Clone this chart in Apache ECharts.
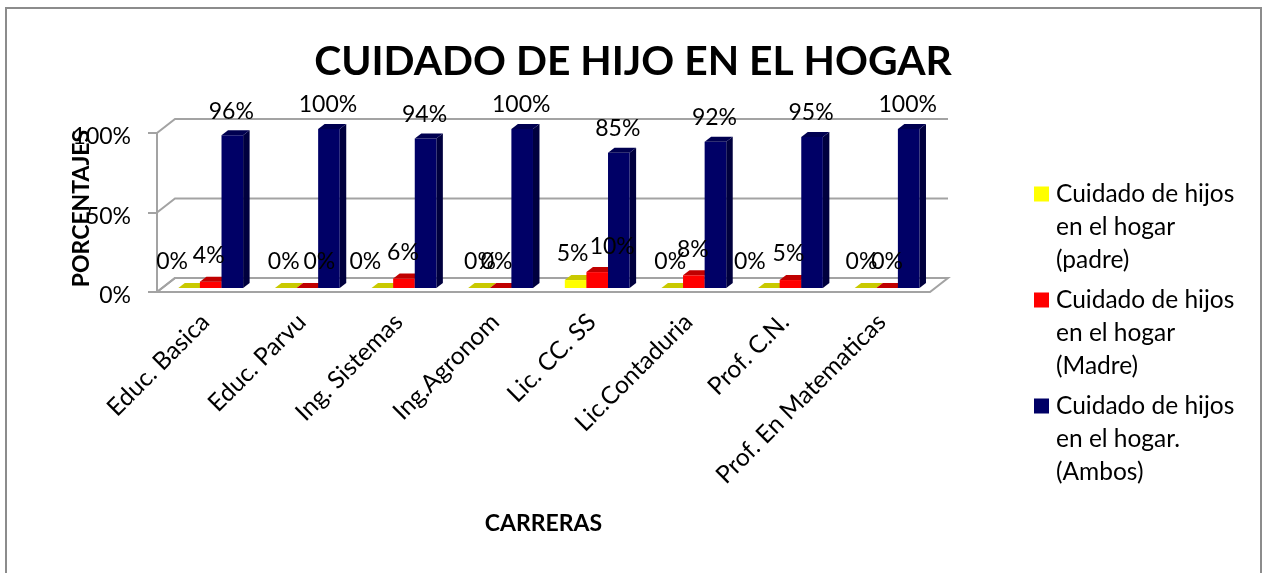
<!DOCTYPE html>
<html>
<head>
<meta charset="utf-8">
<style>html,body{margin:0;padding:0;background:#fff}#chart{width:1262px;height:573px}</style>
<script src="https://cdn.jsdelivr.net/npm/echarts@6/dist/echarts.min.js"></script>
</head>
<body>
<div id="chart"></div>
<script>
const categories = ['Educ. Basica', 'Educ. Parvu', 'Ing. Sistemas', 'Ing.Agronom', 'Lic. CC. SS', 'Lic.Contaduria', 'Prof. C.N.', 'Prof. En Matematicas']
const padre = [0, 0, 0, 0, 5, 0, 0, 0]
const madre = [4, 0, 6, 0, 10, 8, 5, 0]
const ambos = [96, 100, 94, 100, 85, 92, 95, 100]
const yTicks = [0, 50, 100]

const FONT = 'Lato'
const GRAY = '#a3a3a3'
// 3d look of the old excel chart: wall depth and bar depth in px
const WALL_X = 18
const WALL_Y = 14
const BAR_SHIFT_X = 5.4
const BAR_SHIFT_Y = 4
const BAR_W = 21.6
const DEPTH_X = 6.5
const DEPTH_Y = 5
// the labels were moved by hand in the original
const labelDx = [
  [-17, -2, -17, 1, -3, -2, -19, -4],
  [-2, 12, -1, -4, 15, -1, -2, 0],
  [-1, -1, -1, -1, -1, -1, -1, -1]
]
const labelDy = [-21, -21, -19]

const seriesDefs = [
  {name: 'Cuidado de hijos\nen el hogar\n(padre)', values: padre, front: '#ffff00', top: '#c9c900', side: '#a8a800'},
  {name: 'Cuidado de hijos\nen el hogar\n(Madre)', values: madre, front: '#ff0000', top: '#c00000', side: '#a00000'},
  {name: 'Cuidado de hijos\nen el hogar.\n(Ambos)', values: ambos, front: '#000066', top: '#000050', side: '#00003e'}
]

function barFront (api, seriesPos) {
  const i = api.value(0)
  const base = api.coord([i, 0])
  const head = api.coord([i, api.value(1)])
  const x = base[0] + BAR_SHIFT_X + (seriesPos - 1.5) * BAR_W
  return {x: x, base: base[1] - BAR_SHIFT_Y, head: head[1] - BAR_SHIFT_Y}
}

function renderBar (seriesPos, def) {
  return function (params, api) {
    const b = barFront(api, seriesPos)
    const r = b.x + BAR_W
    const children = []
    if (b.base - b.head > 0.5) {
      children.push({type: 'polygon', shape: {points: [[r, b.base], [r + DEPTH_X, b.base - DEPTH_Y], [r + DEPTH_X, b.head - DEPTH_Y], [r, b.head]]}, style: {fill: def.side}})
      children.push({type: 'rect', shape: {x: b.x, y: b.head, width: BAR_W, height: b.base - b.head}, style: {fill: def.front}})
    }
    children.push({type: 'polygon', shape: {points: [[b.x, b.head], [r, b.head], [r + DEPTH_X, b.head - DEPTH_Y], [b.x + DEPTH_X, b.head - DEPTH_Y]]}, style: {fill: def.top}})
    return {type: 'group', children: children}
  }
}

function renderWalls (params, api) {
  const cs = params.coordSys
  const left = cs.x
  const right = cs.x + cs.width
  const floor = cs.y + cs.height
  const children = [{
    type: 'polygon',
    shape: {points: [[left, floor], [right, floor], [right + WALL_X, floor - WALL_Y], [left + WALL_X, floor - WALL_Y]]},
    style: {fill: '#fff', stroke: GRAY, lineWidth: 2}
  }]
  yTicks.forEach(function (t) {
    const y = api.coord([0, t])[1]
    children.push({
      type: 'polyline',
      shape: {points: [[left, y], [left + WALL_X, y - WALL_Y], [right + WALL_X, y - WALL_Y]]},
      style: {fill: null, stroke: GRAY, lineWidth: 2}
    })
  })
  return {type: 'group', children: children}
}

function renderLabel (seriesPos) {
  return function (params, api) {
    const b = barFront(api, seriesPos)
    const i = api.value(0)
    return {
      type: 'text',
      style: {
        text: api.value(1) + '%',
        x: b.x + BAR_W / 2 + labelDx[seriesPos][i],
        y: b.head - DEPTH_Y + labelDy[seriesPos],
        align: 'center',
        verticalAlign: 'middle',
        font: '23px ' + FONT,
        fill: '#000'
      }
    }
  }
}

const series = [{
  type: 'custom',
  silent: true,
  z: 1,
  clip: false,
  renderItem: renderWalls,
  data: [[0, 0]]
}]
seriesDefs.forEach(function (def, pos) {
  series.push({
    name: def.name,
    type: 'custom',
    z: 2 + pos,
    clip: false,
    itemStyle: {color: def.front},
    renderItem: renderBar(pos, def),
    encode: {x: 0, y: 1},
    data: def.values.map(function (v, i) { return [i, v] })
  })
})
seriesDefs.forEach(function (def, pos) {
  series.push({
    type: 'custom',
    silent: true,
    z: 6,
    clip: false,
    renderItem: renderLabel(pos),
    encode: {x: 0, y: 1},
    data: def.values.map(function (v, i) { return [i, v] })
  })
})

const chart = echarts.init(document.getElementById('chart'))
chart.setOption({
  animation: false,
  backgroundColor: '#fff',
  textStyle: {fontFamily: FONT, color: '#000'},
  graphic: [{
    type: 'rect',
    z: -1,
    shape: {x: 6, y: 8, width: 1255, height: 600},
    style: {fill: '#fff', stroke: '#8c8c8c', lineWidth: 2}
  }],
  title: {
    text: 'CUIDADO DE HIJO EN EL HOGAR',
    left: 628,
    top: 57,
    textAlign: 'center',
    textVerticalAlign: 'middle',
    textStyle: {fontFamily: FONT, fontSize: 40.8, fontWeight: 'bold', color: '#000'}
  },
  legend: {
    left: 1034,
    top: 178,
    padding: 0,
    orient: 'vertical',
    itemWidth: 17,
    itemHeight: 99,
    itemGap: 7,
    selectedMode: false,
    icon: 'path://M0 0L17 0M0 99L17 99M0 8.5H15V23.5H0Z',
    itemStyle: {borderWidth: 0},
    textStyle: {fontFamily: FONT, fontSize: 24.5, lineHeight: 33, color: '#000'},
    data: seriesDefs.map(function (d) { return d.name })
  },
  grid: {left: 157, top: 133, width: 773, height: 159, containLabel: false},
  xAxis: {
    type: 'category',
    data: categories,
    name: 'CARRERAS',
    nameLocation: 'middle',
    nameGap: 220,
    nameMoveOverlap: false,
    nameTextStyle: {fontFamily: FONT, fontSize: 23, fontWeight: 'bold', color: '#000'},
    axisLine: {show: false},
    axisTick: {show: false},
    axisLabel: {rotate: 45, interval: 0, margin: 26, fontFamily: FONT, fontSize: 24.5, color: '#000'}
  },
  yAxis: {
    type: 'value',
    min: 0,
    max: 100,
    interval: 50,
    name: 'PORCENTAJES',
    nameLocation: 'middle',
    nameGap: 64,
    nameMoveOverlap: false,
    nameTextStyle: {fontFamily: FONT, fontSize: 23, fontWeight: 'bold', color: '#000', padding: [0, 0, 0, 8]},
    splitLine: {show: false},
    axisLine: {show: true, lineStyle: {color: GRAY, width: 2}},
    axisTick: {show: true, length: 9, lineStyle: {color: GRAY, width: 2}},
    axisLabel: {formatter: '{value}%', margin: 26, verticalAlign: 'top', lineHeight: 8, fontFamily: FONT, fontSize: 23, color: '#000'}
  },
  series: series
})
</script>
</body>
</html>
